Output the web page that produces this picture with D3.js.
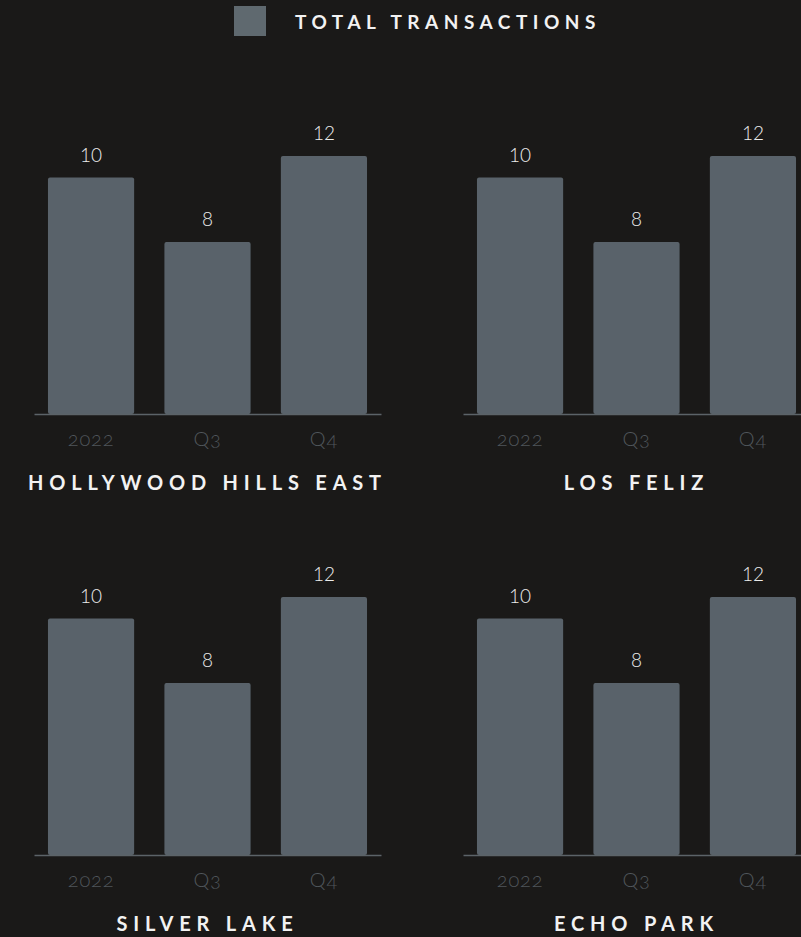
<!DOCTYPE html>
<html>
<head>
<meta charset="utf-8">
<script src="https://cdn.jsdelivr.net/npm/d3@7/dist/d3.min.js"></script>
<style>
  html, body { margin: 0; padding: 0; background: #1a1918; overflow: hidden; }
  svg { display: block; }
</style>
</head>
<body>
<script>
// ---- data ----
const categories = ["2022", "Q3", "Q4"];
const neighborhoods = ["HOLLYWOOD HILLS EAST", "LOS FELIZ", "SILVER LAKE", "ECHO PARK"];
const transactionLabels = [10, 8, 12];   // printed value labels
const barLevels = [11, 8, 12];           // bar heights
const legendLabel = "TOTAL TRANSACTIONS";

// ---- layout ----
const W = 801, H = 937;
const panelW = 347;
const panelX = [34, 463];
const baseY = [414, 855];
const plotH = 258;
const colors = { bg: "#1a1918", bar: "#59626a", axis: "#5c6368", tick: "#50565b", value: "#ececec", title: "#f2f2f2" };

const svg = d3.select("body").append("svg").attr("width", W).attr("height", H);
svg.append("rect").attr("width", W).attr("height", H).attr("fill", colors.bg);

// legend
const lg = svg.append("g");
lg.append("rect").attr("x", 234).attr("y", 6).attr("width", 32).attr("height", 30).attr("fill", "#5f696f");
lg.append("text").attr("x", 295).attr("y", 29)
  .attr("font-family", "Lato, 'Open Sans', sans-serif").attr("font-weight", 700)
  .attr("font-size", 19).attr("letter-spacing", 5.5).attr("fill", colors.title)
  .text(legendLabel);

neighborhoods.forEach((name, i) => {
  const col = i % 2, row = Math.floor(i / 2);
  const x0 = panelX[col], by = baseY[row];
  const x = d3.scaleBand().domain(categories).range([x0, x0 + panelW])
    .paddingInner(0.26).paddingOuter(0.12);
  const yS = d3.scaleLinear().domain([0, 12]).range([by, by - plotH]);
  const g = svg.append("g");

  g.selectAll("rect.bar").data(categories).join("rect")
    .attr("class", "bar")
    .attr("x", d => x(d))
    .attr("width", x.bandwidth())
    .attr("y", (d, k) => yS(barLevels[k]))
    .attr("height", (d, k) => by - yS(barLevels[k]))
    .attr("rx", 2)
    .attr("fill", colors.bar);

  // axis
  const ax = g.append("g").attr("transform", `translate(0,${by})`)
    .call(d3.axisBottom(x).tickSize(0).tickPadding(0));
  ax.select(".domain").attr("stroke", colors.axis).attr("stroke-width", 1.3);
  ax.selectAll(".tick text")
    .attr("y", 32).attr("dy", 0)
    .attr("font-family", "Lato, 'Open Sans', sans-serif").attr("font-weight", 300)
    .attr("font-size", 20).attr("letter-spacing", 0.8).attr("fill", colors.tick)
    .style("font-variant-numeric", "oldstyle-nums");

  // value labels
  g.selectAll("text.val").data(categories).join("text")
    .attr("class", "val")
    .attr("x", d => x(d) + x.bandwidth() / 2)
    .attr("y", (d, k) => yS(barLevels[k]) - 16)
    .attr("text-anchor", "middle")
    .attr("font-family", "Lato, 'Open Sans', sans-serif").attr("font-weight", 300)
    .attr("font-size", 19).attr("fill", colors.value)
    .text((d, k) => transactionLabels[k]);

  // title
  g.append("text")
    .attr("x", x0 + panelW / 2).attr("y", by + 76)
    .attr("text-anchor", "middle")
    .attr("font-family", "Lato, 'Open Sans', sans-serif").attr("font-weight", 700)
    .attr("font-size", 20).attr("letter-spacing", 5.8).attr("fill", colors.title)
    .text(name);
});
</script>
</body>
</html>
